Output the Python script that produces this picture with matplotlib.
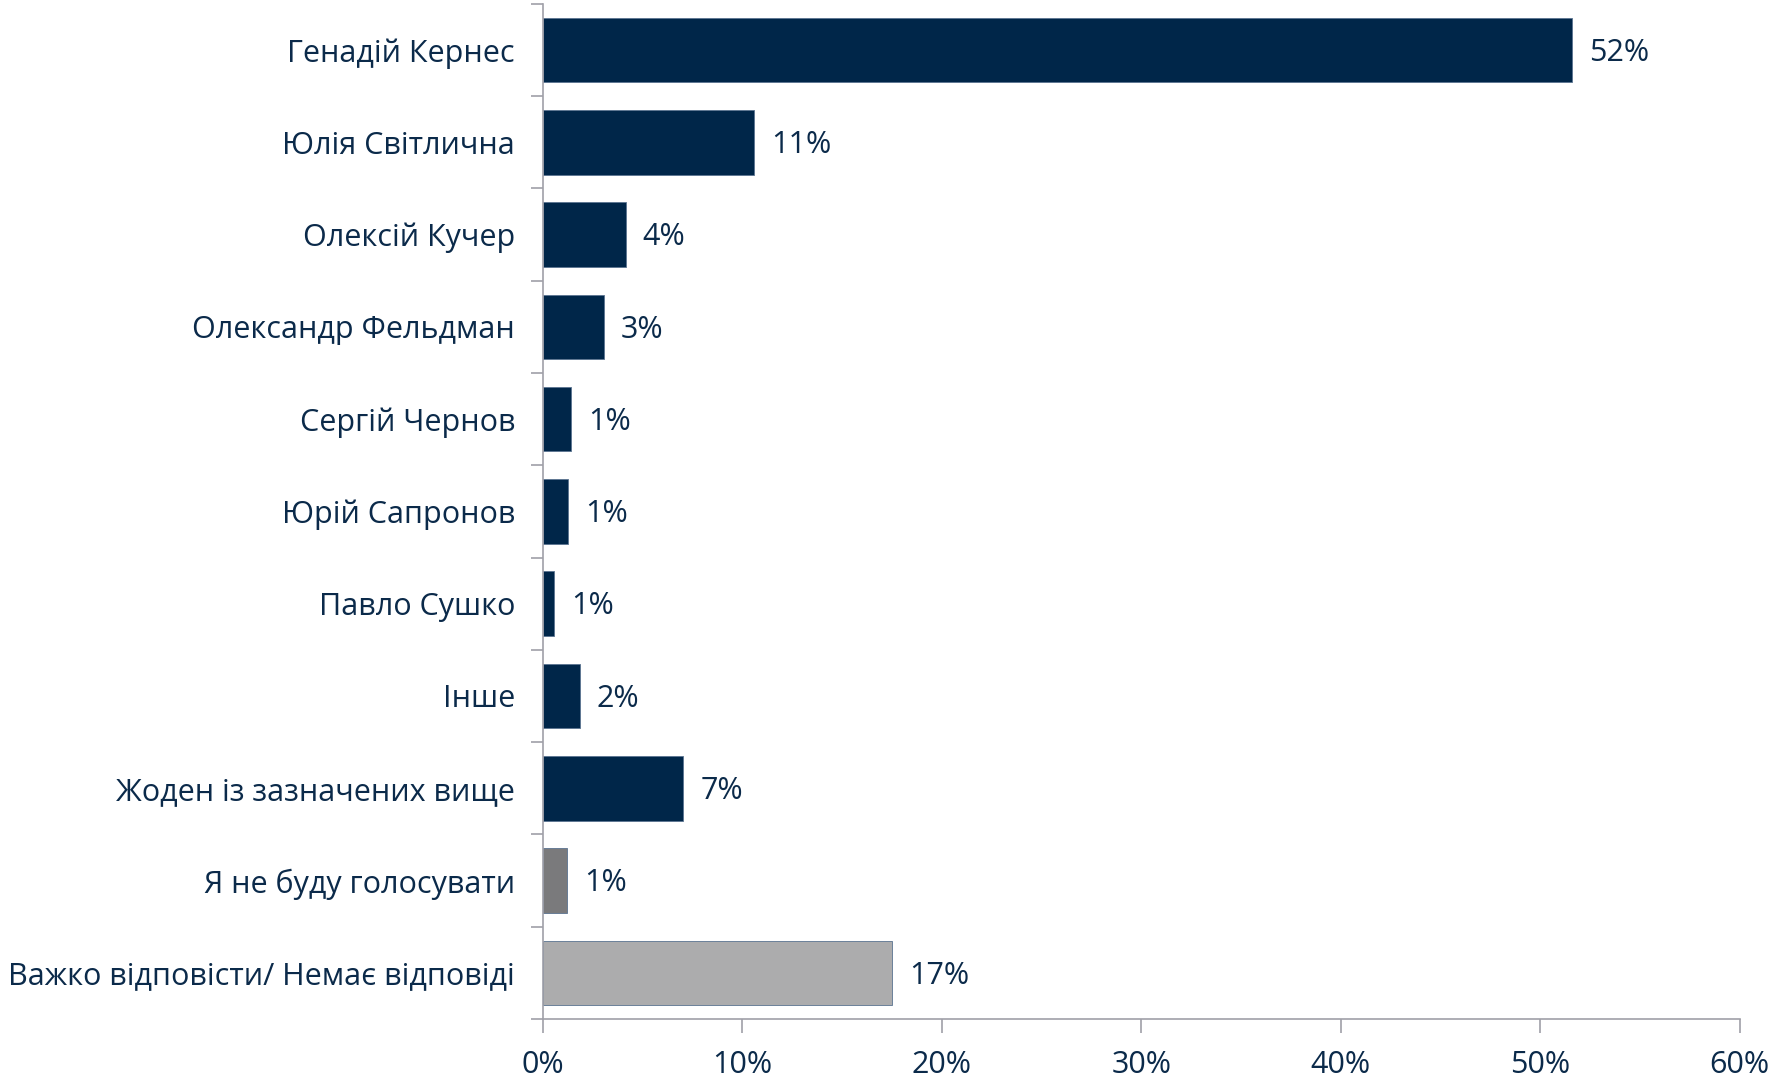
import matplotlib.pyplot as plt
import numpy as np

plt.rcParams['font.family'] = ['Open Sans', 'DejaVu Sans']

labels = ['Генадій Кернес', 'Юлія Світлична', 'Олексій Кучер', 'Олександр Фельдман',
          'Сергій Чернов', 'Юрій Сапронов', 'Павло Сушко', 'Інше',
          'Жоден із зазначених вище', 'Я не буду голосувати',
          'Важко відповісти/ Немає відповіді']
values = [51.6, 10.6, 4.15, 3.05, 1.4, 1.25, 0.55, 1.85, 7.05, 1.2, 17.5]
value_labels = ['52%', '11%', '4%', '3%', '1%', '1%', '1%', '2%', '7%', '1%', '17%']
colors = ['#002649'] * 9 + ['#7a7a7c', '#acacad']

text_color = '#0b2a4a'
axis_color = '#a0a0a8'

fig = plt.figure(figsize=(17.77, 10.81), dpi=100)
ax = fig.add_axes([0.3055, 0.0574, 0.6735, 0.939])

y = np.arange(len(labels))
ax.barh(y, values, height=0.7, color=colors, edgecolor='#5a7390', linewidth=0.6)
for yi, v, t in zip(y, values, value_labels):
    ax.text(v + 0.85, yi + 0.03, t, va='center', ha='left', fontsize=22, color=text_color)

ax.set_ylim(len(labels) - 0.5, -0.5)
ax.set_xlim(0, 60)
ax.set_xticks(range(0, 61, 10))
ax.set_xticklabels([f'{x}%' for x in range(0, 61, 10)])
ax.set_yticks(y)
ax.set_yticklabels(labels)
ax.set_yticks(np.arange(-0.5, len(labels), 1), minor=True)
ax.tick_params(axis='y', which='major', length=0, pad=20, labelsize=22, labelcolor=text_color)
ax.tick_params(axis='y', which='minor', length=9, color=axis_color, width=1.2)
ax.tick_params(axis='x', length=10, color=axis_color, width=1.2, pad=12,
               labelsize=22, labelcolor=text_color)

for s in ['top', 'right']:
    ax.spines[s].set_visible(False)
for s in ['left', 'bottom']:
    ax.spines[s].set_color(axis_color)
    ax.spines[s].set_linewidth(1.2)

fig.savefig('out.png', dpi=100)
